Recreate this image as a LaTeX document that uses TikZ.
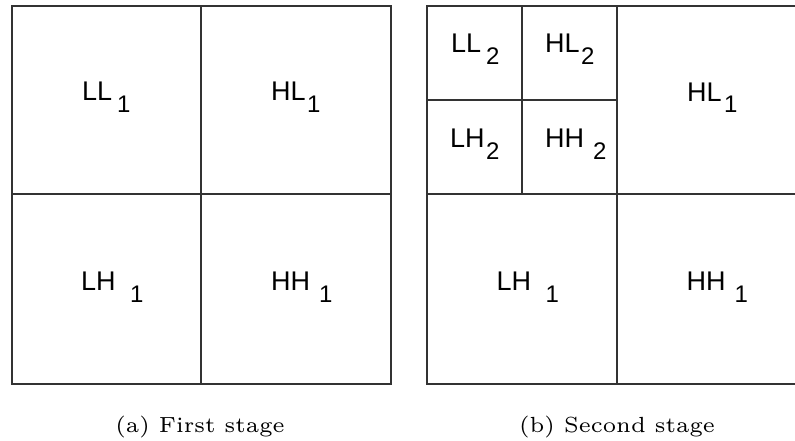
\documentclass[tikz,border=0pt]{standalone}
\usepackage{fontspec}
\newfontfamily\labfont{Liberation Sans}
\begin{document}
\begin{tikzpicture}[x=1pt,y=-1pt,
  gridline/.style={line width=1.1pt,draw=black!80},
  labmain/.style={anchor=base west,inner sep=0pt,font=\labfont\fontsize{27}{30}\selectfont},
  labsub/.style={anchor=base west,inner sep=0pt,font=\labfont\fontsize{24}{28}\selectfont},
  captext/.style={anchor=base,inner sep=0pt,font=\fontsize{6}{7}\selectfont,scale=3.65}]
\useasboundingbox (0,0) rectangle (795,441);
\clip (0,0) rectangle (795,441);
% left square
\draw[gridline] (12,6) rectangle (391,384);
\draw[gridline] (201,6) -- (201,384);
\draw[gridline] (12,194) -- (391,194);
% right square
\draw[gridline] (427,6) rectangle (806,384);
\draw[gridline] (617,6) -- (617,384);
\draw[gridline] (427,194) -- (806,194);
\draw[gridline] (522,6) -- (522,194);
\draw[gridline] (427,100) -- (617,100);
% labels left
\node[labmain] (ll1) at (82,101) {LL};
\node[labsub] (ll1s) at (117,113) {1};
\node[labmain] (hl1) at (271,101) {HL};
\node[labsub] (hl1s) at (307,113) {1};
\node[labmain] (lh1) at (81,290) {LH};
\node[labsub] (lh1s) at (130,302) {1};
\node[labmain] (hh1) at (271,290) {HH};
\node[labsub] (hh1s) at (319,302) {1};
% labels right
\node[labmain] (ll2) at (451,53) {LL};
\node[labsub] (ll2s) at (486,65) {2};
\node[labmain] (hl2) at (545,53) {HL};
\node[labsub] (hl2s) at (581,65) {2};
\node[labmain] (lh2) at (450,148) {LH};
\node[labsub] (lh2s) at (486,160) {2};
\node[labmain] (hh2) at (545,148) {HH};
\node[labsub] (hh2s) at (593,160) {2};
\node[labmain] (hl1r) at (687,102) {HL};
\node[labsub] (hl1rs) at (724,113) {1};
\node[labmain] (lh1r) at (496.5,290) {LH};
\node[labsub] (lh1rs) at (545.5,302) {1};
\node[labmain] (hh1r) at (686.5,290) {HH};
\node[labsub] (hh1rs) at (734.5,302) {1};
% captions
\node[captext] (capa) at (200,432) {(a) First stage};
\node[captext] (capb) at (617,432) {(b) Second stage};
\end{tikzpicture}
\end{document}
